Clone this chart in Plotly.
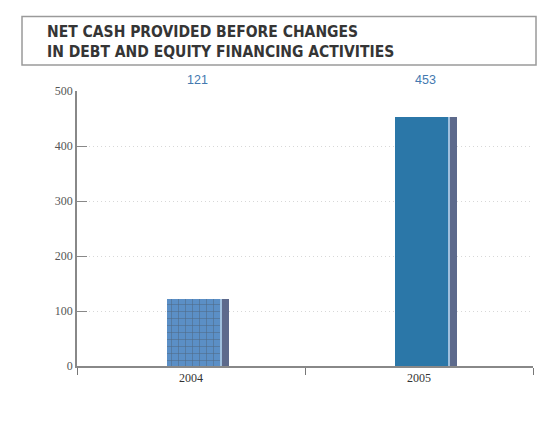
import plotly.graph_objects as go

# Net cash provided before changes in debt and equity financing activities
years = ["2004", "2005"]
values = [121, 453]
face_colors = ["#5b8fc6", "#2b77a8"]
value_labels = ["121", "453"]
title_lines = ["NET CASH PROVIDED BEFORE CHANGES",
               "IN DEBT AND EQUITY FINANCING ACTIVITIES"]

fig = go.Figure()

# Front face of each bar (2004 hatched with a fine grid)
fig.add_trace(go.Bar(
    x=years, y=values,
    width=0.235, offset=-0.105,
    marker=dict(
        color=face_colors,
        line=dict(width=0),
        pattern=dict(shape=["+", ""], fgcolor="#8db4dc", size=7, solidity=0.15),
    ),
    hoverinfo="skip",
))
# Thin light edge between face and side
fig.add_trace(go.Bar(
    x=years, y=values,
    width=0.012, offset=0.128,
    marker=dict(color="#9fc0de", line=dict(width=0)),
    hoverinfo="skip",
))
# Darker side of each bar
fig.add_trace(go.Bar(
    x=years, y=values,
    width=0.027, offset=0.138,
    marker=dict(color="#5d6a8c", line=dict(width=0)),
    hoverinfo="skip",
))

# Values above the plot (category positions by index)
for i, lab in enumerate(value_labels):
    fig.add_annotation(
        x=i, xref="x", xshift=6, y=1.04, yref="paper",
        text=lab, showarrow=False, yanchor="middle",
        font=dict(family="Liberation Sans", size=12.5, color="#4479b0"),
    )

# Title box
fig.add_shape(
    type="rect", xref="paper", yref="paper",
    x0=-0.1206, x1=1.0066, y0=1.0945, y1=1.271,
    line=dict(color="#9a9a9a", width=1.5), fillcolor="rgba(0,0,0,0)",
)
fig.add_annotation(
    x=-0.0702, xref="paper", y=1.18, yref="paper",
    xanchor="left", yanchor="middle", align="left", showarrow=False,
    text="<b>" + "<br>".join(title_lines) + "</b>",
    font=dict(family="DejaVu Sans Condensed, Liberation Sans", size=15.5,
              color="#353535"),
)

fig.update_layout(
    width=541, height=443,
    margin=dict(l=77, r=8, t=91, b=77),
    paper_bgcolor="white", plot_bgcolor="white",
    barmode="overlay", showlegend=False, bargap=0,
    xaxis=dict(
        type="category", range=[-0.5, 1.5],
        tickson="boundaries", ticks="outside", ticklen=7, tickcolor="#777",
        showline=True, linecolor="#888", linewidth=1.5,
        showgrid=False, zeroline=False,
        tickfont=dict(family="Liberation Serif", size=12, color="#333"),
    ),
    yaxis=dict(
        range=[0, 500], tickvals=[0, 100, 200, 300, 400, 500],
        ticks="inside", ticklen=10, tickcolor="#888",
        showline=True, linecolor="#888", linewidth=1.5,
        showgrid=True, gridcolor="#d8d8d8", griddash="1px,3px", gridwidth=1,
        zeroline=False,
        tickfont=dict(family="Liberation Serif", size=12, color="#555"),
    ),
)

fig.write_html("out.html")
